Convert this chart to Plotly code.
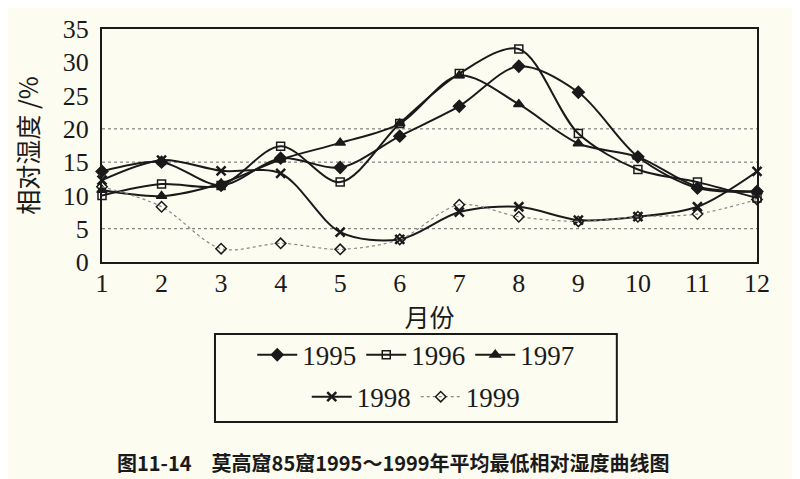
import plotly.graph_objects as go

months = list(range(1, 13))
y1995 = [13.6, 15.0, 11.5, 15.6, 14.2, 18.9, 23.4, 29.4, 25.5, 15.8, 11.1, 10.6]
y1996 = [10.0, 11.7, 11.5, 17.4, 12.0, 20.8, 28.3, 32.0, 19.3, 13.9, 12.0, 9.6]
y1997 = [10.8, 9.9, 11.8, 15.4, 17.9, 20.8, 28.0, 23.7, 17.8, 15.8, 11.3, 10.6]
y1998 = [12.3, 15.3, 13.7, 13.3, 4.5, 3.4, 7.5, 8.3, 6.3, 6.8, 8.3, 13.6]
y1999 = [11.3, 8.3, 2.0, 2.8, 1.9, 3.4, 8.6, 6.8, 6.1, 6.8, 7.2, 9.4]
gridlines = [5, 15, 20]
ytick_vals = [0, 5, 10, 15, 20, 25, 30, 35]

BG = "#fdfcf1"
INK = "#1a1a1a"
SERIF = "Liberation Serif, Times New Roman, serif"
CJK = "Noto Sans CJK SC, sans-serif"

fig = go.Figure()

def add(name, ys, symbol, legend, dash="solid", color=INK, width=2, msize=9, mline=1.5, mcolor=INK):
    fig.add_trace(go.Scatter(
        x=months, y=ys, name=name, mode="lines+markers",
        line=dict(color=color, width=width, shape="spline", smoothing=0.9, dash=dash),
        marker=dict(symbol=symbol, size=msize, color=mcolor,
                    line=dict(color=INK, width=mline)),
        cliponaxis=False, legend=legend,
    ))

add("1995", y1995, "diamond", "legend", msize=9)
add("1996", y1996, "square-open", "legend", msize=8)
add("1997", y1997, "triangle-up", "legend", msize=9)
add("1998", y1998, "x-thin-open", "legend2", msize=9, mline=2.5)
add("1999", y1999, "diamond-open", "legend2", dash="dot", color="#888888", width=1.2, msize=8, mline=1.5)

shapes = []
for g in gridlines:
    shapes.append(dict(type="line", xref="x", yref="y", x0=1, x1=12, y0=g, y1=g,
                       line=dict(color="#666666", width=1, dash="dot"), layer="below"))
# legend frame
shapes.append(dict(type="rect", xref="paper", yref="paper",
                   x0=0.1725, x1=0.786, y0=-0.687, y1=-0.309,
                   line=dict(color=INK, width=2), fillcolor="rgba(0,0,0,0)"))

fig.update_layout(
    width=800, height=479,
    margin=dict(l=94, r=51, t=21, b=225, autoexpand=False),
    paper_bgcolor=BG, plot_bgcolor=BG,
    font=dict(family=SERIF, color=INK),
    showlegend=True,
    legend=dict(orientation="h", x=0.479, xanchor="center", y=-0.40, yanchor="middle",
                font=dict(family=SERIF, size=27, color=INK), bgcolor="rgba(0,0,0,0)",
                itemwidth=40, tracegroupgap=0),
    legend2=dict(orientation="h", x=0.479, xanchor="center", y=-0.58, yanchor="middle",
                 font=dict(family=SERIF, size=27, color=INK), bgcolor="rgba(0,0,0,0)",
                 itemwidth=40, tracegroupgap=0),
    shapes=shapes,
    xaxis=dict(range=[1, 12], tickvals=months, ticktext=[str(m) for m in months],
               showgrid=False, zeroline=False, showline=True, mirror=True,
               linecolor=INK, linewidth=2, ticks="", automargin=False,
               ticklabelstandoff=-3,
               tickfont=dict(family=SERIF, size=26, color=INK),
               title=dict(text="月份", font=dict(family=CJK, size=25, color=INK), standoff=0)),
    yaxis=dict(range=[0, 35], tickvals=ytick_vals,
               showgrid=False, zeroline=False, showline=True, mirror=True,
               linecolor=INK, linewidth=2, ticks="", automargin=False,
               ticklabelstandoff=6,
               tickfont=dict(family=SERIF, size=26, color=INK),
               title=dict(text="相对湿度 /%", font=dict(family=CJK, size=25, color=INK), standoff=17)),
    annotations=[dict(text="图11-14　莫高窟85窟1995～1999年平均最低相对湿度曲线图",
                      xref="paper", yref="paper", x=(393 - 102) / 655, y=(262 - 462) / 233,
                      xanchor="center", yanchor="middle", showarrow=False,
                      font=dict(family=CJK, size=20, color=INK, weight="bold"))],
)

fig.write_html("out.html")
